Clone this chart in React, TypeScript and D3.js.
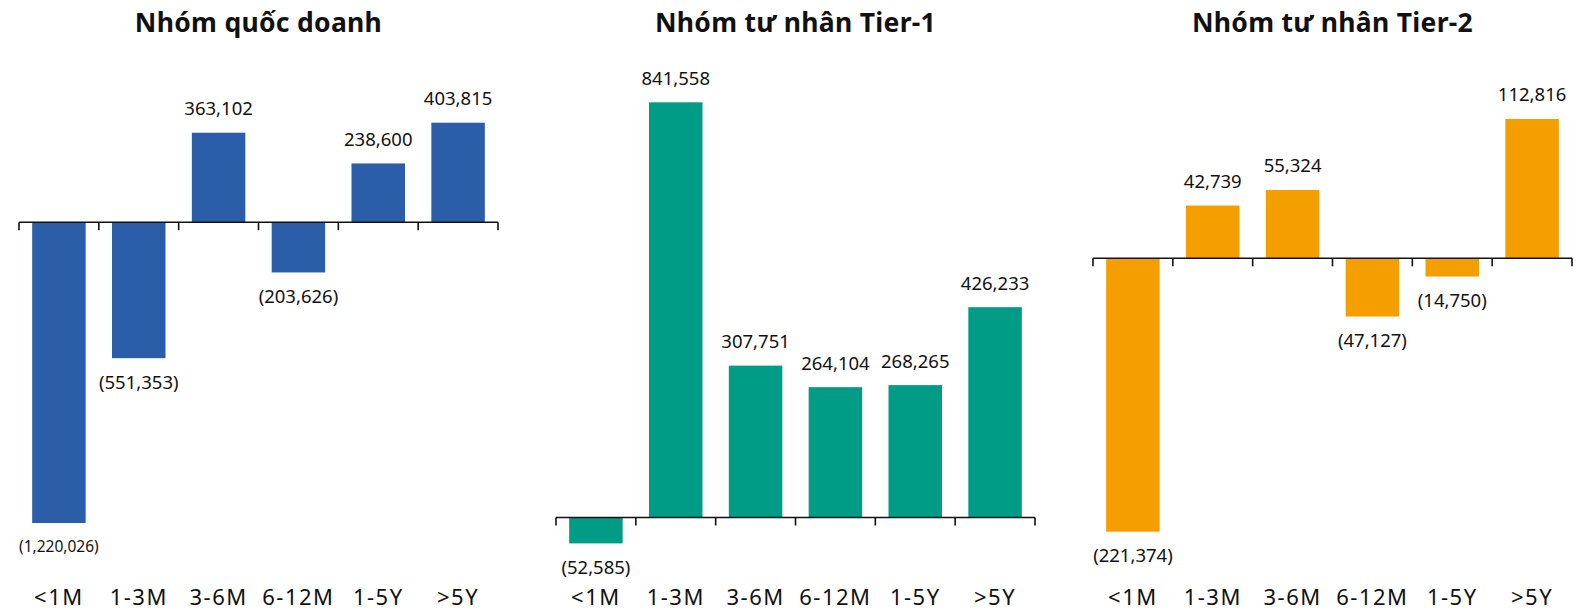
import React, { useEffect, useRef } from 'react';
import * as d3 from 'd3';

const categories = ['<1M', '1-3M', '3-6M', '6-12M', '1-5Y', '>5Y'];

const stateValues = [-1220026, -551353, 363102, -203626, 238600, 403815];
const tier1Values = [-52585, 841558, 307751, 264104, 268265, 426233];
const tier2Values = [-221374, 42739, 55324, -47127, -14750, 112816];

const titles = ['Nhóm quốc doanh', 'Nhóm tư nhân Tier-1', 'Nhóm tư nhân Tier-2'];
const colors = ['#2C5DA9', '#009C86', '#F49E00'];

const W = 1583;
const H = 610;
const FONT = '"Noto Sans", Lato, sans-serif';

// where each panel sits on the page
const panels = [
  { values: stateValues, x0: 19, x1: 498, top: 122.7, bottom: 523 },
  { values: tier1Values, x0: 556, x1: 1035, top: 102.3, bottom: 543.4 },
  { values: tier2Values, x0: 1093, x1: 1572, top: 119, bottom: 531.7 },
];

const fmt = (v: number) => {
  const s = d3.format(',')(Math.abs(v));
  return v < 0 ? `(${s})` : s;
};

export default function App() {
  const svgRef = useRef<SVGSVGElement>(null);

  useEffect(() => {
    const svg = d3.select(svgRef.current);
    svg.selectAll('*').remove();

    panels.forEach((p, i) => {
      const g = svg.append('g');
      const x = d3.scaleBand().domain(categories).range([p.x0, p.x1]).paddingInner(0.33).paddingOuter(0.165);
      const y = d3
        .scaleLinear()
        .domain([d3.min(p.values)!, d3.max(p.values)!])
        .range([p.bottom, p.top]);
      const y0 = y(0);

      g.append('text')
        .attr('x', (p.x0 + p.x1) / 2)
        .attr('y', 32)
        .attr('text-anchor', 'middle')
        .attr('font-family', FONT)
        .attr('font-weight', 700)
        .attr('font-size', 26.5)
        .attr('letter-spacing', 0.3)
        .attr('fill', '#111')
        .text(titles[i]);

      g.selectAll('rect.bar')
        .data(p.values)
        .join('rect')
        .attr('class', 'bar')
        .attr('x', (_, j) => x(categories[j])!)
        .attr('width', x.bandwidth())
        .attr('y', (d) => Math.min(y(d), y0))
        .attr('height', (d) => Math.abs(y(d) - y0))
        .attr('fill', colors[i]);

      // baseline axis with tick marks hanging down at band edges
      const step = x.step();
      const ticks = d3.range(categories.length + 1).map((k) => p.x0 + k * step);
      g.append('line')
        .attr('x1', p.x0)
        .attr('x2', p.x1)
        .attr('y1', y0)
        .attr('y2', y0)
        .attr('stroke', '#111')
        .attr('stroke-width', 1.6);
      g.selectAll('line.tick')
        .data(ticks)
        .join('line')
        .attr('class', 'tick')
        .attr('x1', (d) => d)
        .attr('x2', (d) => d)
        .attr('y1', y0)
        .attr('y2', y0 + 8)
        .attr('stroke', '#111')
        .attr('stroke-width', 1.6);

      g.selectAll('text.val')
        .data(p.values)
        .join('text')
        .attr('class', 'val')
        .attr('x', (_, j) => x(categories[j])! + x.bandwidth() / 2)
        .attr('y', (d) => (d >= 0 ? y(d) - 24 : y(d) + 24))
        .attr('dy', '0.35em')
        .attr('text-anchor', 'middle')
        .attr('font-family', FONT)
        .attr('font-size', (d) => (Math.abs(d) >= 1000000 ? 15.5 : 18.5))
        .attr('fill', '#111')
        .text((d) => fmt(d));

      g.selectAll('text.cat')
        .data(categories)
        .join('text')
        .attr('class', 'cat')
        .attr('x', (d) => x(d)! + x.bandwidth() / 2)
        .attr('y', 605)
        .attr('text-anchor', 'middle')
        .attr('font-family', FONT)
        .attr('font-size', 22)
        .attr('letter-spacing', 1.5)
        .attr('fill', '#111')
        .text((d) => d);
    });
  }, []);

  return (
    <svg
      ref={svgRef}
      width={W}
      height={H}
      style={{ position: 'absolute', left: 0, top: 0, background: '#fff' }}
    />
  );
}
